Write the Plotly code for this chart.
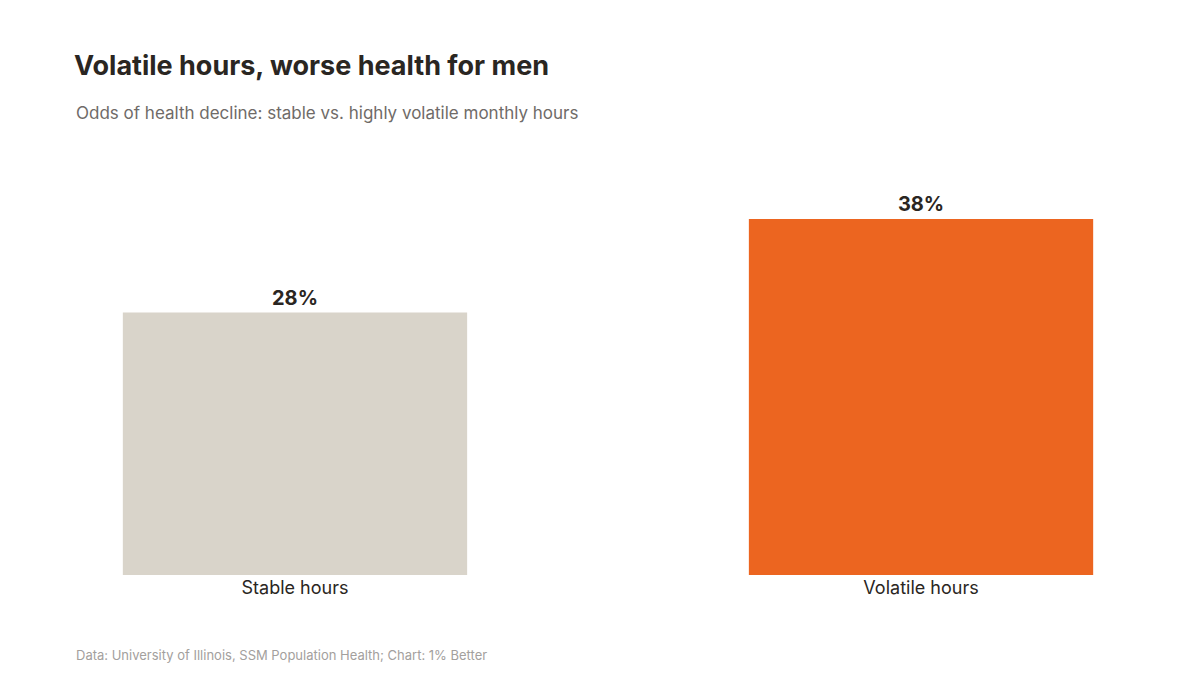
import plotly.graph_objects as go

# data
categories = ["Stable hours", "Volatile hours"]
values = [28, 38]
colors = ["#d9d4ca", "#ec6520"]
labels = ["28%", "38%"]

fig = go.Figure()
fig.add_trace(go.Bar(
    x=[0, 1], y=values, width=0.55,
    marker=dict(color=colors, line=dict(width=0)),
    text=labels, textposition="outside",
    textfont=dict(size=20, color="#2a2622", family="Inter", weight="bold"),
    cliponaxis=False, hoverinfo="skip",
))

fig.update_layout(
    width=1200, height=675,
    paper_bgcolor="white", plot_bgcolor="white",
    margin=dict(l=66, r=66, t=150, b=108),
    font=dict(family="Inter", color="#2a2622"),
    showlegend=False,
    title=dict(text="<b>Volatile hours, worse health for men</b>",
               x=66/1200, xanchor="left", y=1-58/675, yanchor="middle",
               font=dict(size=27, color="#2a2622")),
    annotations=[
        dict(text="Odds of health decline: stable vs. highly volatile monthly hours",
             xref="paper", yref="paper", x=0, y=1 + (150-105)/417,
             xanchor="left", yanchor="middle", showarrow=False,
             font=dict(size=17, color="#6f6b68")),
        dict(text="Data: University of Illinois, SSM Population Health; Chart: 1% Better",
             xref="paper", yref="paper", x=0, y=-(647-567)/417,
             xanchor="left", yanchor="middle", showarrow=False,
             font=dict(size=13, color="#a3a09d")),
    ],
)
fig.update_xaxes(range=[-0.353, 1.353], tickvals=[0, 1], ticktext=categories,
                 tickfont=dict(size=18, color="#2a2622"), showgrid=False,
                 zeroline=False, showline=False, ticks="")
fig.update_yaxes(range=[0, 44.5], visible=False)

fig.write_html("out.html")
